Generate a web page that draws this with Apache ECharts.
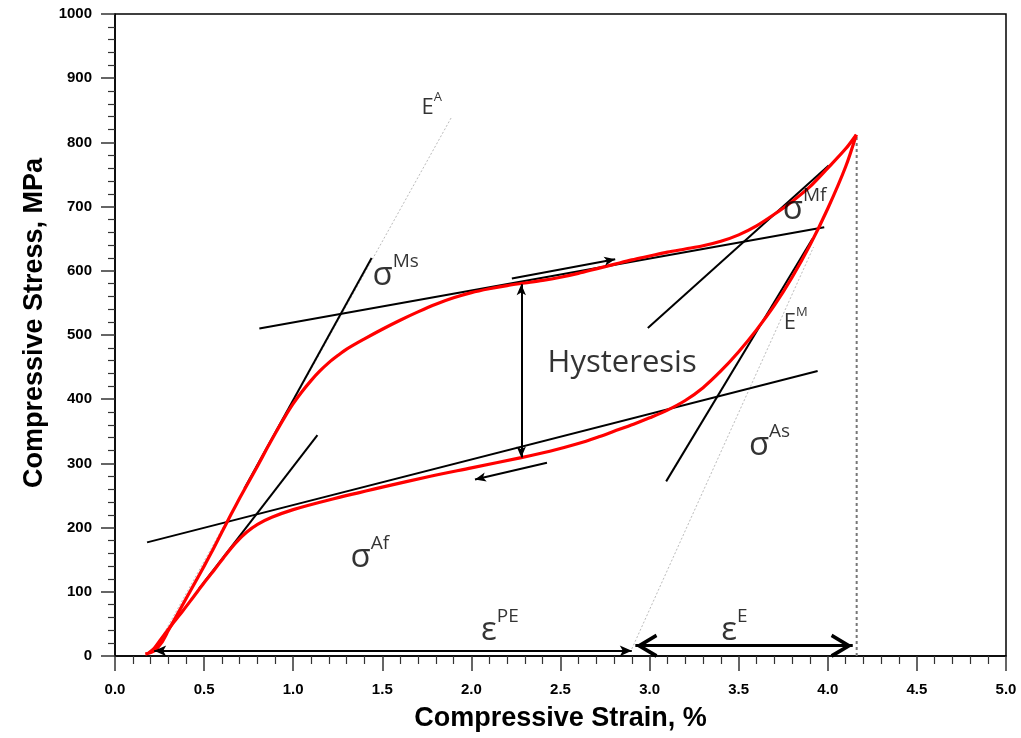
<!DOCTYPE html>
<html><head><meta charset="utf-8">
<script src="https://cdn.jsdelivr.net/npm/echarts@6/dist/echarts.min.js"></script>
<style>html,body{margin:0;padding:0;background:#fff}#c{width:1021px;height:738px}</style>
</head><body><div id="c"></div>
<script>
// ---- data ----
const loadStrain = [0.17,0.22,0.26,0.3,0.35,0.4,0.45,0.5,0.55,0.6,0.65,0.7,0.75,0.8,0.85,0.9,0.95,1.0,1.05,1.1,1.15,1.2,1.25,1.3,1.4,1.5,1.6,1.7,1.8,1.9,2.0,2.1,2.2,2.3,2.4,2.5,2.6,2.7,2.8,2.9,3.0,3.1,3.2,3.3,3.4,3.5,3.6,3.7,3.8,3.9,4.0,4.1,4.16];
const loadStress = [3,8,20,40,65,90,115,140,166,193,220,246,271,296,322,347,371,393,412,429,444,457,468,478,494,509,523,536,548,558,566,572,577,581,585,590,596,603,610,617,623,629,634,639,646,656,670,688,708,731,760,790,812];
const unloadStrain = [4.16,4.1,4.0,3.9,3.8,3.7,3.6,3.5,3.4,3.3,3.2,3.1,3.0,2.91,2.8,2.72,2.6,2.44,2.28,2.0,1.77,1.5,1.2,1.0,0.88,0.8,0.74,0.68,0.62,0.56,0.5,0.44,0.38,0.32,0.26,0.22,0.19];
const unloadStress = [812,762,697,640,590,546,508,474,444,418,398,383,371,361,350,342,331,319,309,293,280,263,243,228,216,205,193,177,157,135,114,92,70,49,27,12,5];

// construction (tangent) lines: [strain1, strain2], [stress1, stress2]
const tanMsStrain = [0.726, 1.44],  tanMsStress = [261, 620];
const platUpStrain = [0.81, 3.98],  platUpStress = [510, 668];
const tanMfStrain = [2.99, 4.005],  tanMfStress = [511, 764];
const tanEMStrain = [3.093, 3.914], tanEMStress = [272, 650];
const platLoStrain = [0.18, 3.943], platLoStress = [177, 444];
const tanAfStrain = [0.472, 1.136], tanAfStress = [105, 344];
const modEAStrain = [0.22, 1.89],   modEAStress = [8, 840];
const modEMStrain = [2.90, 3.92],   modEMStress = [11, 637];
const maxStrainLine = [4.162, 4.162], maxStressLine = [0, 812];

// arrows
const ePEStrain = [0.22, 2.90], ePEStress = [8, 8];
const eEStrain = [2.92, 4.14], eEStress = [16, 16];
const hystStrain = [2.28, 2.28], hystStress = [309, 579];
const upArrStrain = [2.227, 2.807], upArrStress = [588, 618];
const loArrStrain = [2.424, 2.02], loArrStress = [301, 275];

// annotation texts: [strain, stress, main, superscript, kind]
const notes = [
  [1.777, 858, 'E', 'A', 'E'],
  [1.575, 598, 'σ', 'Ms', 'S'],
  [3.87, 701, 'σ', 'Mf', 'S'],
  [3.82, 523, 'E', 'M', 'E'],
  [3.673, 333, 'σ', 'As', 'S'],
  [1.43, 159, 'σ', 'Af', 'S'],
  [2.16, 45, 'ε', 'PE', 'S'],
  [3.476, 45, 'ε', 'E', 'S'],
  [2.846, 456, 'Hysteresis', '', 'H']
];

const xTicks = [0,0.5,1,1.5,2,2.5,3,3.5,4,4.5,5];
const yTicks = [0,100,200,300,400,500,600,700,800,900,1000];

// ---- chart ----
const zip = (a, b) => a.map((v, i) => [v, b[i]]);
const chart = echarts.init(document.getElementById('c'), null, {renderer: 'canvas'});
const FONT = '"Open Sans", "Noto Sans", sans-serif';
const AFONT = '"Liberation Sans", Arial, sans-serif';

function seg(xs, ys, style) {
  return {type: 'line', data: zip(xs, ys), symbol: 'none', silent: true,
    lineStyle: Object.assign({color: '#000', width: 2}, style), z: 2, animation: false};
}
const chevron = 'path://M10,-20 L10.01,-20 L10,-19.99 Z M10,0 L20,18 L17.2,19.5 L10,6.5 L2.8,19.5 L0,18 Z';

const series = [
  seg(modEAStrain, modEAStress, {color: '#bbb', width: 1, type: [2, 2]}),
  seg(modEMStrain, modEMStress, {color: '#bbb', width: 1, type: [2, 2]}),
  seg(maxStrainLine, maxStressLine, {color: '#777', width: 2, type: [3, 3]}),
  {type: 'line', data: zip(loadStrain, loadStress), symbol: 'none', silent: true, z: 3, smooth: 0.3,
    lineStyle: {color: '#ff0000', width: 3.2}, animation: false},
  {type: 'line', data: zip(unloadStrain, unloadStress), symbol: 'none', silent: true, z: 3, smooth: 0.3,
    lineStyle: {color: '#ff0000', width: 3.2}, animation: false},
  seg(tanMsStrain, tanMsStress, {}),
  seg(platUpStrain, platUpStress, {}),
  seg(tanMfStrain, tanMfStress, {}),
  seg(tanEMStrain, tanEMStress, {}),
  seg(platLoStrain, platLoStress, {}),
  seg(tanAfStrain, tanAfStress, {}),
  {type: 'line', data: [], symbol: 'none', z: 5, animation: false,
    markLine: {silent: true, animation: false, label: {show: false},
      lineStyle: {color: '#000', width: 2, type: 'solid'},
      data: [
        [{coord: [ePEStrain[0], ePEStress[0]], symbol: 'arrow', symbolSize: [8, 12]},
         {coord: [ePEStrain[1], ePEStress[1]], symbol: 'arrow', symbolSize: [8, 12]}],
        [{coord: [hystStrain[0], hystStress[0]], symbol: 'arrow', symbolSize: [7, 11]},
         {coord: [hystStrain[1], hystStress[1]], symbol: 'arrow', symbolSize: [7, 11]}],
        [{coord: [upArrStrain[0], upArrStress[0]], symbol: 'none'},
         {coord: [upArrStrain[1], upArrStress[1]], symbol: 'arrow', symbolSize: [7, 11]}],
        [{coord: [loArrStrain[0], loArrStress[0]], symbol: 'none'},
         {coord: [loArrStrain[1], loArrStress[1]], symbol: 'arrow', symbolSize: [7, 11]}],
        [{coord: [eEStrain[0], eEStress[0]], symbol: chevron, symbolSize: [24, 44], lineStyle: {width: 3}},
         {coord: [eEStrain[1], eEStress[1]], symbol: chevron, symbolSize: [24, 44], lineStyle: {width: 3}}]
      ]}
  },
  {type: 'scatter', symbolSize: 0, z: 6, silent: true, animation: false,
    data: notes.map(n => ({value: [n[0], n[1]], note: n})),
    label: {show: true, position: 'inside', color: '#000', fontFamily: FONT,
      formatter: p => {
        const n = p.data.note;
        if (n[4] === 'H') return '{h|' + n[2] + '}';
        if (n[4] === 'E') return '{e|' + n[2] + '}{es|' + n[3] + '}';
        return '{b|' + n[2] + '}{s|' + n[3] + '}';
      },
      rich: {
        h: {fontSize: 31, fontFamily: FONT, color: '#000'},
        b: {fontSize: 33, fontFamily: FONT, color: '#000', verticalAlign: 'bottom', lineHeight: 40},
        s: {fontSize: 19, fontFamily: FONT, color: '#000', verticalAlign: 'top', lineHeight: 40},
        e: {fontSize: 22, fontFamily: FONT, color: '#000', verticalAlign: 'bottom', lineHeight: 28},
        es: {fontSize: 13, fontFamily: FONT, color: '#000', verticalAlign: 'top', lineHeight: 28}
      }
    }
  }
];

const axisLabel = {color: '#000', fontFamily: AFONT, fontWeight: 'bold', fontSize: 15};
chart.setOption({
  backgroundColor: '#fff',
  animation: false,
  grid: {left: 115, right: 15, top: 14, bottom: 82, show: true, borderColor: '#000', borderWidth: 1.5, containLabel: false},
  xAxis: {
    type: 'value', min: xTicks[0], max: xTicks[xTicks.length - 1], interval: 0.5,
    axisLine: {show: true, onZero: false, lineStyle: {color: '#000', width: 1.5}},
    axisTick: {show: true, length: 15, lineStyle: {color: '#333', width: 1.5}},
    minorTick: {show: true, splitNumber: 5, length: 8, lineStyle: {color: '#333', width: 1.2}},
    splitLine: {show: false},
    axisLabel: Object.assign({margin: 26, formatter: v => v.toFixed(1)}, axisLabel),
    name: 'Compressive Strain, %', nameLocation: 'middle', nameGap: 49,
    nameTextStyle: {color: '#000', fontFamily: AFONT, fontWeight: 'bold', fontSize: 27}
  },
  yAxis: {
    type: 'value', min: yTicks[0], max: yTicks[yTicks.length - 1], interval: 100,
    axisLine: {show: true, onZero: false, lineStyle: {color: '#000', width: 1.5}},
    axisTick: {show: true, length: 14, lineStyle: {color: '#333', width: 1.5}},
    minorTick: {show: true, splitNumber: 5, length: 7, lineStyle: {color: '#333', width: 1.2}},
    splitLine: {show: false},
    axisLabel: Object.assign({margin: 23, formatter: v => String(v)}, axisLabel),
    name: 'Compressive Stress, MPa', nameLocation: 'middle', nameGap: 67,
    nameTextStyle: {color: '#000', fontFamily: AFONT, fontWeight: 'bold', fontSize: 27, padding: [0, 0, 0, 24]}
  },
  series: series
});
</script>
</body></html>
